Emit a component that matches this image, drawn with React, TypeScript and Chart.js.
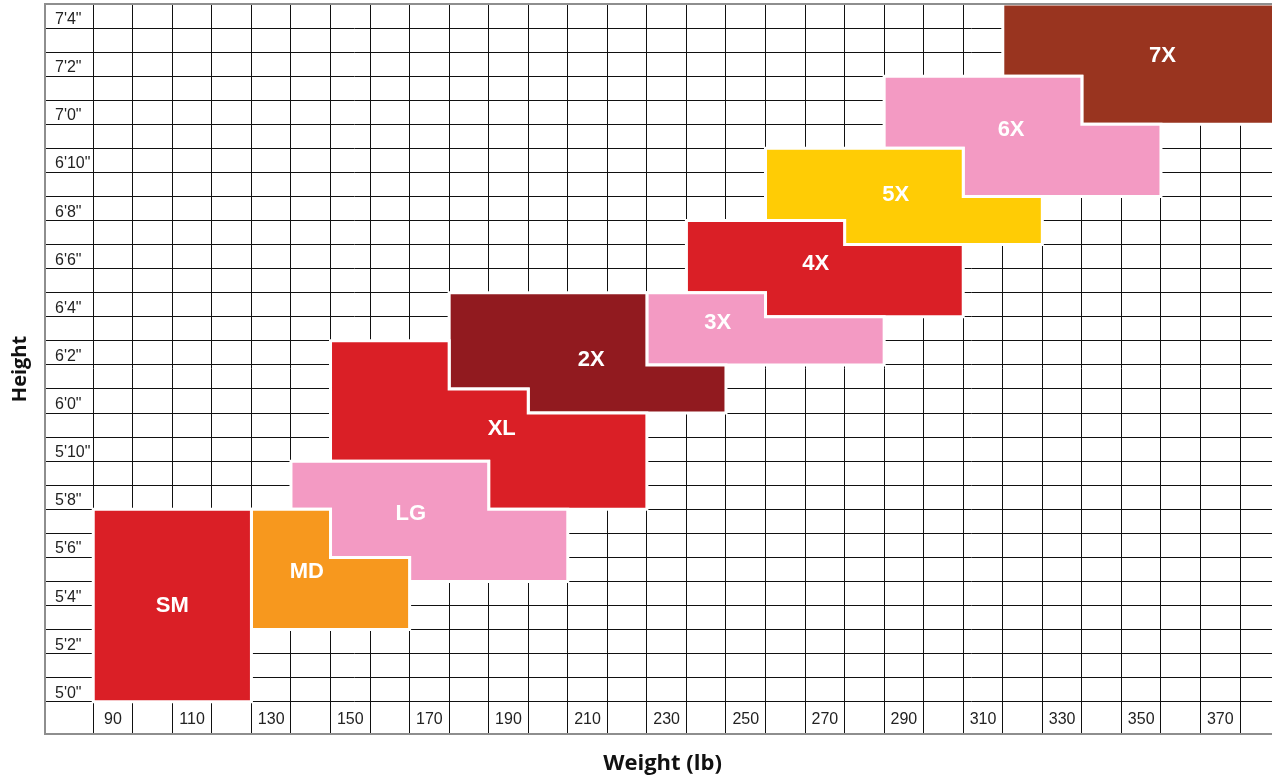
import React, { useEffect, useRef } from 'react';
import { Chart, registerables } from 'chart.js';

Chart.register(...registerables);

// ---- Data ----
const sizeNames = ['SM', 'MD', 'LG', 'XL', '2X', '3X', '4X', '5X', '6X', '7X'];
const sizeColors = ['#DA1F26', '#F7981E', '#F39AC3', '#DA1F26', '#911A1F', '#F39AC3', '#DA1F26', '#FFCC05', '#F39AC3', '#99341F'];

// outline vertices of each size region (weight in lb, height in inches)
const smWeights = [90, 130, 130, 90];
const smHeights = [60, 60, 68, 68];
const mdWeights = [130, 170, 170, 150, 150, 130];
const mdHeights = [63, 63, 66, 66, 68, 68];
const lgWeights = [140, 150, 150, 170, 170, 210, 210, 190, 190, 140];
const lgHeights = [68, 68, 66, 66, 65, 65, 68, 68, 70, 70];
const xlWeights = [150, 190, 190, 230, 230, 200, 200, 180, 180, 150];
const xlHeights = [70, 70, 68, 68, 72, 72, 73, 73, 75, 75];
const x2Weights = [180, 200, 200, 250, 250, 230, 230, 180];
const x2Heights = [73, 73, 72, 72, 74, 74, 77, 77];
const x3Weights = [230, 290, 290, 260, 260, 230];
const x3Heights = [74, 74, 76, 76, 77, 77];
const x4Weights = [240, 260, 260, 310, 310, 280, 280, 240];
const x4Heights = [77, 77, 76, 76, 79, 79, 80, 80];
const x5Weights = [260, 280, 280, 330, 330, 310, 310, 260];
const x5Heights = [80, 80, 79, 79, 81, 81, 83, 83];
const x6Weights = [290, 310, 310, 360, 360, 340, 340, 290];
const x6Heights = [83, 83, 81, 81, 84, 84, 86, 86];
const x7Weights = [320, 340, 340, 390, 390, 320];
const x7Heights = [86, 86, 84, 84, 89, 89];

// where each size name sits (weight, height)
const labelWeights = [110, 144, 170.3, 193.3, 215.9, 247.9, 272.7, 292.9, 322.1, 360.4];
const labelHeights = [64, 65.4, 67.8, 71.35, 74.2, 75.75, 78.2, 81.05, 83.75, 86.83];

// axis ticks
const weightGridLines = [90, 100, 110, 120, 130, 140, 150, 160, 170, 180, 190, 200, 210, 220, 230, 240, 250, 260, 270, 280, 290, 300, 310, 320, 330, 340, 350, 360, 370, 380, 390];
const weightTickValues = [90, 110, 130, 150, 170, 190, 210, 230, 250, 270, 290, 310, 330, 350, 370];
const weightTickLabels = ['90', '110', '130', '150', '170', '190', '210', '230', '250', '270', '290', '310', '330', '350', '370'];
const heightGridLines = [60, 61, 62, 63, 64, 65, 66, 67, 68, 69, 70, 71, 72, 73, 74, 75, 76, 77, 78, 79, 80, 81, 82, 83, 84, 85, 86, 87, 88, 89];
const heightTickValues = [60, 62, 64, 66, 68, 70, 72, 74, 76, 78, 80, 82, 84, 86, 88];
const heightTickLabels = ["5'0\"", "5'2\"", "5'4\"", "5'6\"", "5'8\"", "5'10\"", "6'0\"", "6'2\"", "6'4\"", "6'6\"", "6'8\"", "6'10\"", "7'0\"", "7'2\"", "7'4\""];

// ---- Style ----
const GRID = '#111111';
const FRAME = '#8e8e8e';
const TICK_FONT = { family: "'Liberation Sans', Arial, sans-serif", size: 16 };
const TITLE_FONT = { family: "'Open Sans', 'Noto Sans', sans-serif", size: 22, weight: 'bold' as const };

const shapes = [
  [smWeights, smHeights], [mdWeights, mdHeights], [lgWeights, lgHeights], [xlWeights, xlHeights],
  [x2Weights, x2Heights], [x3Weights, x3Heights], [x4Weights, x4Heights], [x5Weights, x5Heights],
  [x6Weights, x6Heights], [x7Weights, x7Heights],
];

const xLabelMap = new Map<number, string>();
weightTickValues.forEach((v, i) => xLabelMap.set(v + 5, weightTickLabels[i]));
const yLabelMap = new Map<number, string>();
heightTickValues.forEach((v, i) => yLabelMap.set(v + 0.35, heightTickLabels[i]));
const xEdges = new Set(weightGridLines);
const yEdges = new Set(heightGridLines);

const noPadding = (scale: any) => {
  scale.paddingTop = 0;
  scale.paddingBottom = 0;
  scale.paddingLeft = 0;
  scale.paddingRight = 0;
};

const sizeLabelPlugin = {
  id: 'sizeLabels',
  afterDatasetsDraw(chart: any) {
    const { ctx, scales } = chart;
    const xs = scales.x;
    const ys = scales.y;
    ctx.save();
    ctx.font = "bold 22px 'Liberation Sans', Arial, sans-serif";
    ctx.fillStyle = '#ffffff';
    ctx.textAlign = 'center';
    ctx.textBaseline = 'middle';
    sizeNames.forEach((name, i) => {
      ctx.fillText(name, xs.getPixelForValue(labelWeights[i]), ys.getPixelForValue(labelHeights[i]));
    });
    ctx.restore();
  },
};

export default function App() {
  const ref = useRef<HTMLCanvasElement>(null);

  useEffect(() => {
    const canvas = ref.current;
    if (!canvas) return;

    const datasets = sizeNames.map((name, i) => {
      const [ws, hs] = shapes[i];
      const pts = ws.map((w, j) => ({ x: w, y: hs[j] }));
      pts.push(pts[0]);
      return {
        type: 'line' as const,
        label: name,
        data: pts,
        xAxisID: 'x',
        yAxisID: 'y',
        backgroundColor: sizeColors[i],
        borderColor: '#ffffff',
        borderWidth: 3,
        fill: 'shape',
        pointRadius: 0,
        pointHoverRadius: 0,
        tension: 0,
        borderJoinStyle: 'miter' as const,
        borderCapStyle: 'square' as const,
      };
    });

    const chart = new Chart(canvas, {
      type: 'line',
      data: { datasets: datasets as any },
      plugins: [sizeLabelPlugin],
      options: {
        animation: false,
        responsive: false,
        devicePixelRatio: 1,
        events: [],
        layout: { padding: 0 },
        plugins: { legend: { display: false }, tooltip: { enabled: false } },
        scales: {
          x: {
            type: 'linear',
            position: 'bottom',
            min: 77.8,
            max: 390.1,
            afterBuildTicks: (scale: any) => {
              const vals = [...weightGridLines, ...weightTickValues.map((v) => v + 5)].sort((a, b) => a - b);
              scale.ticks = vals.map((value) => ({ value }));
            },
            afterFit: (scale: any) => { scale.height = 46; noPadding(scale); },
            grid: {
              drawTicks: false,
              color: (c: any) => (c.tick && xEdges.has(c.tick.value) ? GRID : 'rgba(0,0,0,0)'),
              lineWidth: (c: any) => (c.tick && xEdges.has(c.tick.value) ? 1 : 0),
            },
            border: { display: true, color: FRAME, width: 2, z: 1 },
            ticks: {
              autoSkip: false,
              maxRotation: 0,
              minRotation: 0,
              mirror: true,
              padding: 5,
              color: '#222',
              font: TICK_FONT,
              callback: (value: any) => xLabelMap.get(Number(value)) ?? '',
            },
            title: {
              display: true,
              text: 'Weight (lb)',
              color: '#111',
              font: TITLE_FONT,
              padding: { top: 0, bottom: 3 },
            },
          },
          xTop: {
            type: 'linear',
            position: 'top',
            display: true,
            min: 77.8,
            max: 390.1,
            afterFit: (scale: any) => { scale.height = 4; noPadding(scale); },
            grid: { display: false, drawTicks: false },
            ticks: { display: false },
            border: { display: true, color: FRAME, width: 2, z: 1 },
          },
          y: {
            type: 'linear',
            position: 'left',
            min: 58.66,
            max: 89,
            afterBuildTicks: (scale: any) => {
              const vals = [...heightGridLines, ...heightTickValues.map((v) => v + 0.35)].sort((a, b) => a - b);
              scale.ticks = vals.map((value) => ({ value }));
            },
            afterFit: (scale: any) => { scale.width = 45; noPadding(scale); },
            grid: {
              drawTicks: false,
              color: (c: any) => (c.tick && yEdges.has(c.tick.value) ? GRID : 'rgba(0,0,0,0)'),
              lineWidth: (c: any) => (c.tick && yEdges.has(c.tick.value) ? 1 : 0),
            },
            border: { display: true, color: FRAME, width: 2, z: 1 },
            ticks: {
              autoSkip: false,
              mirror: true,
              padding: 10,
              color: '#222',
              font: TICK_FONT,
              callback: (value: any) => yLabelMap.get(Number(value)) ?? '',
            },
            title: {
              display: true,
              text: 'Height',
              color: '#111',
              font: { ...TITLE_FONT, size: 20 },
              padding: { top: 8, bottom: 0 },
            },
          },
        },
      } as any,
    });

    return () => chart.destroy();
  }, []);

  return (
    <div style={{ position: 'absolute', left: 0, top: 0, width: 1272, height: 780, overflow: 'hidden', background: '#fff' }}>
      <canvas ref={ref} width={1280} height={780} style={{ display: 'block', width: 1280, height: 780 }} />
    </div>
  );
}
